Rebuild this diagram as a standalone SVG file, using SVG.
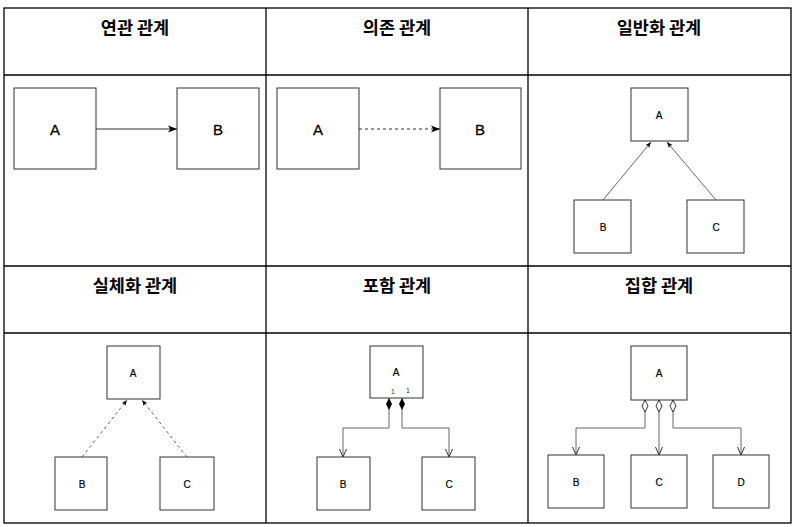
<svg xmlns="http://www.w3.org/2000/svg" width="797" height="527" viewBox="0 0 797 527">
  <style>
    .grid { stroke: #000; stroke-width: 1.3; fill: none; }
    .head { font-family: "Noto Sans CJK KR", "Noto Sans", sans-serif; font-weight: bold; font-size: 17.5px; fill: #000; text-anchor: middle; }
    .box { fill: #fff; stroke: #333; stroke-width: 1; }
    .lbl { font-family: "Liberation Sans", Arial, sans-serif; fill: #000; stroke: #000; stroke-width: 0.3; text-anchor: middle; dominant-baseline: central; }
    .big { font-size: 15px; }
    .small { font-size: 10px; stroke-width: 0.2; }
    .mult { font-family: "Liberation Sans", Arial, sans-serif; font-size: 7px; fill: #333; text-anchor: middle; }
    .conn { fill: none; stroke: #333; stroke-width: 1; }
    .thin { fill: none; stroke: #555; stroke-width: 0.9; }
    .dash { stroke-dasharray: 3 3; }
  </style>
  <defs>
    <marker id="arrowBig" viewBox="0 0 10 8" markerUnits="userSpaceOnUse" markerWidth="9" markerHeight="8" refX="10" refY="4" orient="auto">
      <path d="M0,0 L10,4 L0,8 L2.5,4 z" fill="#000"/>
    </marker>
    <marker id="arrowSmall" viewBox="0 0 10 8" markerUnits="userSpaceOnUse" markerWidth="6" markerHeight="5" refX="10" refY="4" orient="auto">
      <path d="M0,0 L10,4 L0,8 L2.5,4 z" fill="#000"/>
    </marker>
    <marker id="openV" viewBox="0 0 8 8" markerUnits="userSpaceOnUse" markerWidth="8" markerHeight="8" refX="8" refY="4" orient="auto">
      <path d="M0,0.5 L8,4 L0,7.5" fill="none" stroke="#333" stroke-width="1"/>
    </marker>
    <marker id="diamondFill" viewBox="0 0 12 6" markerUnits="userSpaceOnUse" markerWidth="12" markerHeight="6" refX="0" refY="3" orient="auto">
      <path d="M0,3 L6,0 L12,3 L6,6 z" fill="#000"/>
    </marker>
    <marker id="diamondOpen" viewBox="-1 -1 14 8" markerUnits="userSpaceOnUse" markerWidth="14" markerHeight="8" refX="0" refY="3" orient="auto">
      <path d="M0,3 L6,0 L12,3 L6,6 z" fill="#fff" stroke="#333" stroke-width="1"/>
    </marker>
  </defs>

  <rect x="0" y="0" width="797" height="527" fill="#fff"/>

  <!-- table frame -->
  <g id="table">
    <rect class="grid" x="4" y="8" width="787" height="515"/>
    <line class="grid" x1="4" y1="75" x2="791" y2="75"/>
    <line class="grid" x1="4" y1="266" x2="791" y2="266"/>
    <line class="grid" x1="4" y1="333" x2="791" y2="333"/>
    <line class="grid" x1="266" y1="8" x2="266" y2="523"/>
    <line class="grid" x1="528" y1="8" x2="528" y2="523"/>
  </g>

  <!-- column headings -->
  <g id="headings">
    <text class="head" x="135" y="34">연관 관계</text>
    <text class="head" x="397" y="34">의존 관계</text>
    <text class="head" x="659" y="34">일반화 관계</text>
    <text class="head" x="135" y="292">실체화 관계</text>
    <text class="head" x="397" y="292">포함 관계</text>
    <text class="head" x="659" y="292">집합 관계</text>
  </g>

  <!-- connectors -->
  <g id="connectors">
    <!-- association -->
    <line class="conn" x1="96" y1="129" x2="177" y2="129" marker-end="url(#arrowBig)"/>
    <!-- dependency -->
    <line class="conn dash" x1="359" y1="129" x2="440" y2="129" marker-end="url(#arrowBig)"/>
    <!-- generalization -->
    <line class="thin" x1="603" y1="200" x2="651" y2="142" marker-end="url(#arrowSmall)"/>
    <line class="thin" x1="716" y1="200" x2="667" y2="142" marker-end="url(#arrowSmall)"/>
    <!-- realization -->
    <line class="thin dash" x1="82" y1="457" x2="127" y2="400" marker-end="url(#arrowSmall)"/>
    <line class="thin dash" x1="187" y1="457" x2="142" y2="400" marker-end="url(#arrowSmall)"/>
    <!-- composition -->
    <path class="thin" d="M389,398 V428 H343 V457" marker-start="url(#diamondFill)" marker-end="url(#openV)"/>
    <path class="thin" d="M402,398 V428 H449 V457" marker-start="url(#diamondFill)" marker-end="url(#openV)"/>
    <!-- aggregation -->
    <path class="thin" d="M645,400 V428 H576 V455" marker-start="url(#diamondOpen)" marker-end="url(#openV)"/>
    <path class="thin" d="M659,400 V455" marker-start="url(#diamondOpen)" marker-end="url(#openV)"/>
    <path class="thin" d="M673,400 V428 H741 V455" marker-start="url(#diamondOpen)" marker-end="url(#openV)"/>
  </g>

  <!-- association nodes -->
  <g id="assoc-a"><rect class="box" x="14" y="88" width="82" height="81"/><text class="lbl big" x="55" y="129">A</text></g>
  <g id="assoc-b"><rect class="box" x="177" y="88" width="82" height="81"/><text class="lbl big" x="218" y="129">B</text></g>

  <!-- dependency nodes -->
  <g id="dep-a"><rect class="box" x="277" y="88" width="82" height="81"/><text class="lbl big" x="318" y="129">A</text></g>
  <g id="dep-b"><rect class="box" x="440" y="88" width="81" height="81"/><text class="lbl big" x="480" y="129">B</text></g>

  <!-- generalization nodes -->
  <g id="gen-a"><rect class="box" x="631" y="88" width="57" height="53"/><text class="lbl small" x="659" y="115">A</text></g>
  <g id="gen-b"><rect class="box" x="574" y="200" width="57" height="53"/><text class="lbl small" x="603" y="227">B</text></g>
  <g id="gen-c"><rect class="box" x="687" y="200" width="57" height="53"/><text class="lbl small" x="716" y="227">C</text></g>

  <!-- realization nodes -->
  <g id="real-a"><rect class="box" x="107" y="346" width="53" height="53"/><text class="lbl small" x="133" y="373">A</text></g>
  <g id="real-b"><rect class="box" x="55" y="457" width="52" height="53"/><text class="lbl small" x="82" y="484">B</text></g>
  <g id="real-c"><rect class="box" x="160" y="457" width="54" height="53"/><text class="lbl small" x="187" y="484">C</text></g>

  <!-- composition nodes -->
  <g id="comp-a">
    <rect class="box" x="370" y="346" width="53" height="52"/>
    <text class="lbl small" x="396" y="372">A</text>
    <text class="mult" x="393" y="394">1</text>
    <text class="mult" x="408" y="393">1</text>
  </g>
  <g id="comp-b"><rect class="box" x="317" y="457" width="53" height="53"/><text class="lbl small" x="343" y="484">B</text></g>
  <g id="comp-c"><rect class="box" x="422" y="457" width="53" height="53"/><text class="lbl small" x="449" y="484">C</text></g>

  <!-- aggregation nodes -->
  <g id="agg-a"><rect class="box" x="631" y="346" width="56" height="54"/><text class="lbl small" x="659" y="373">A</text></g>
  <g id="agg-b"><rect class="box" x="548" y="455" width="56" height="53"/><text class="lbl small" x="576" y="482">B</text></g>
  <g id="agg-c"><rect class="box" x="631" y="455" width="56" height="53"/><text class="lbl small" x="659" y="482">C</text></g>
  <g id="agg-d"><rect class="box" x="713" y="455" width="56" height="53"/><text class="lbl small" x="741" y="482">D</text></g>
</svg>
